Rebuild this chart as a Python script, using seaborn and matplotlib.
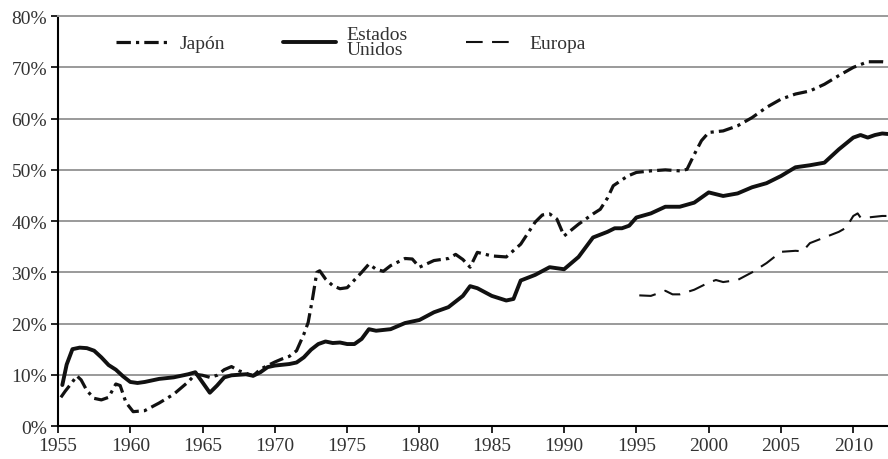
import matplotlib
matplotlib.use("Agg")
import matplotlib.pyplot as plt
import seaborn as sns

# Japón
japan_years = [1955.2, 1955.5, 1956, 1956.3, 1956.6, 1957, 1957.5, 1958, 1958.5, 1959,
               1959.3, 1959.7, 1960.2, 1961, 1962, 1963, 1964, 1964.5, 1965, 1965.5,
               1966, 1966.5, 1967, 1967.5, 1968, 1968.5, 1969, 1970, 1970.5, 1971,
               1971.5, 1972, 1972.3, 1972.6, 1972.9, 1973.1, 1973.5, 1974, 1974.5, 1975,
               1975.5, 1976, 1976.5, 1977, 1977.5, 1978, 1979, 1979.5, 1980, 1981,
               1982, 1982.5, 1983, 1983.5, 1984, 1985, 1986, 1987, 1988, 1988.5,
               1989, 1989.5, 1990, 1991, 1992, 1992.5, 1993, 1993.4, 1994.4, 1995,
               1996, 1997, 1998, 1998.5, 1999, 1999.5, 2000, 2001, 2002, 2003,
               2004, 2005, 2006, 2007, 2008, 2009, 2010, 2011, 2012, 2012.4]
japan_vals = [5.6, 6.8, 8.6, 9.8, 9.0, 6.9, 5.4, 5.1, 5.6, 8.2,
              7.9, 4.6, 2.8, 3.0, 4.5, 6.2, 8.6, 10.1, 9.9, 9.5,
              9.9, 11.0, 11.6, 10.8, 10.3, 9.8, 11.1, 12.5, 13.1, 13.6,
              14.7, 17.9, 20.2, 24.8, 30.0, 30.3, 28.7, 27.4, 26.8, 27.0,
              28.5, 30.0, 31.6, 30.6, 30.2, 31.3, 32.7, 32.6, 31.0, 32.3,
              32.7, 33.5, 32.5, 31.0, 33.9, 33.2, 33.0, 35.5, 39.8, 41.2,
              41.4, 40.4, 37.1, 39.4, 41.4, 42.3, 44.5, 46.9, 48.8, 49.5,
              49.8, 50.0, 49.8, 50.1, 53.0, 55.7, 57.3, 57.6, 58.6, 60.2,
              62.2, 63.8, 64.8, 65.4, 66.7, 68.4, 70.0, 71.1, 71.1, 71.0]

# Estados Unidos
us_years = [1955.3, 1955.6, 1956, 1956.5, 1957, 1957.5, 1958, 1958.5, 1959, 1959.5,
            1960, 1960.5, 1961, 1962, 1963, 1964, 1964.5, 1965, 1965.5, 1966,
            1966.5, 1967, 1968, 1968.5, 1969, 1969.5, 1970, 1971, 1971.5, 1972,
            1972.5, 1973, 1973.5, 1974, 1974.5, 1975, 1975.5, 1976, 1976.5, 1977,
            1978, 1979, 1980, 1981, 1982, 1983, 1983.5, 1984, 1985, 1986,
            1986.5, 1987, 1988, 1989, 1990, 1991, 1992, 1993, 1993.5, 1994,
            1994.5, 1995, 1996, 1997, 1998, 1999, 2000, 2001, 2002, 2003,
            2004, 2005, 2006, 2007, 2008, 2009, 2010, 2010.5, 2011, 2011.5,
            2012, 2012.4]
us_vals = [8.0, 12.0, 15.0, 15.3, 15.2, 14.7, 13.4, 11.9, 11.0, 9.7,
           8.6, 8.4, 8.6, 9.2, 9.5, 10.1, 10.5, 8.5, 6.5, 7.9,
           9.5, 9.9, 10.1, 9.8, 10.5, 11.5, 11.8, 12.1, 12.4, 13.4,
           14.9, 16.0, 16.5, 16.2, 16.3, 16.0, 16.0, 17.0, 18.9, 18.6,
           18.9, 20.1, 20.7, 22.2, 23.2, 25.4, 27.3, 26.9, 25.4, 24.5,
           24.8, 28.4, 29.5, 31.0, 30.6, 33.0, 36.8, 37.9, 38.6, 38.6,
           39.1, 40.7, 41.5, 42.8, 42.8, 43.6, 45.6, 44.9, 45.4, 46.6,
           47.4, 48.8, 50.5, 50.9, 51.4, 54.0, 56.3, 56.8, 56.3, 56.8,
           57.1, 57.0]

# Europa
europe_years = [1995.2, 1996, 1997, 1997.5, 1998, 1999, 2000, 2000.5, 2001, 2002,
                2003, 2004, 2005, 2006, 2006.5, 2007, 2008, 2009, 2009.5, 2010,
                2010.3, 2010.5, 2011, 2012, 2012.4]
europe_vals = [25.5, 25.4, 26.4, 25.7, 25.7, 26.6, 28.0, 28.5, 28.1, 28.5,
               30.0, 31.8, 34.0, 34.2, 34.1, 35.7, 36.8, 37.9, 38.7, 41.0,
               41.5, 40.7, 40.7, 41.0, 41.0]

x_ticks = list(range(1955, 2011, 5))
y_ticks = list(range(0, 81, 10))

sns.set_style("white")
plt.rcParams['font.family'] = ['Liberation Serif', 'DejaVu Serif']

fig = plt.figure(figsize=(8.88, 4.6), dpi=100)
ax = fig.add_axes([0.0653, 0.0717, 0.9347, 0.891])

# gridlines
for v in y_ticks[1:-1]:
    ax.axhline(v, color='#9a9a9a', lw=1.4, zorder=0)

sns.lineplot(x=japan_years, y=japan_vals, ax=ax, color='#111111', lw=2.3,
             linestyle=(0, (4.5, 1.6, 1.0, 1.6)), label='Japón')
sns.lineplot(x=us_years, y=us_vals, ax=ax, color='#111111', lw=2.8,
             label='Estados\nUnidos')
sns.lineplot(x=europe_years, y=europe_vals, ax=ax, color='#111111', lw=1.5,
             linestyle=(0, (8, 4.5)), label='Europa')

ax.set_xlim(1955, 2012.4)
ax.set_ylim(0, 80)
ax.set_xticks(x_ticks)
ax.set_yticks(y_ticks)
ax.set_yticklabels([f"{v}%" for v in y_ticks])
ax.set_xlabel('')
ax.set_ylabel('')
ax.tick_params(axis='both', direction='out', length=5, width=1.2, color='black',
               labelsize=14, labelcolor='#333333', pad=3,
               bottom=True, left=True)

for side in ['left', 'bottom']:
    ax.spines[side].set_color('black')
    ax.spines[side].set_linewidth(1.5)
ax.spines['right'].set_visible(False)
ax.spines['top'].set_color('#9a9a9a')
ax.spines['top'].set_linewidth(1.4)

leg = ax.legend(loc='center left', bbox_to_anchor=(0.07, 0.937), ncol=3,
                frameon=False, fontsize=14, handlelength=2.7, handletextpad=0.55,
                columnspacing=3.0, borderaxespad=0, borderpad=0)
for t in leg.get_texts():
    t.set_color('#333333')
    t.set_linespacing(0.8)

fig.savefig('out.png', dpi=100)
